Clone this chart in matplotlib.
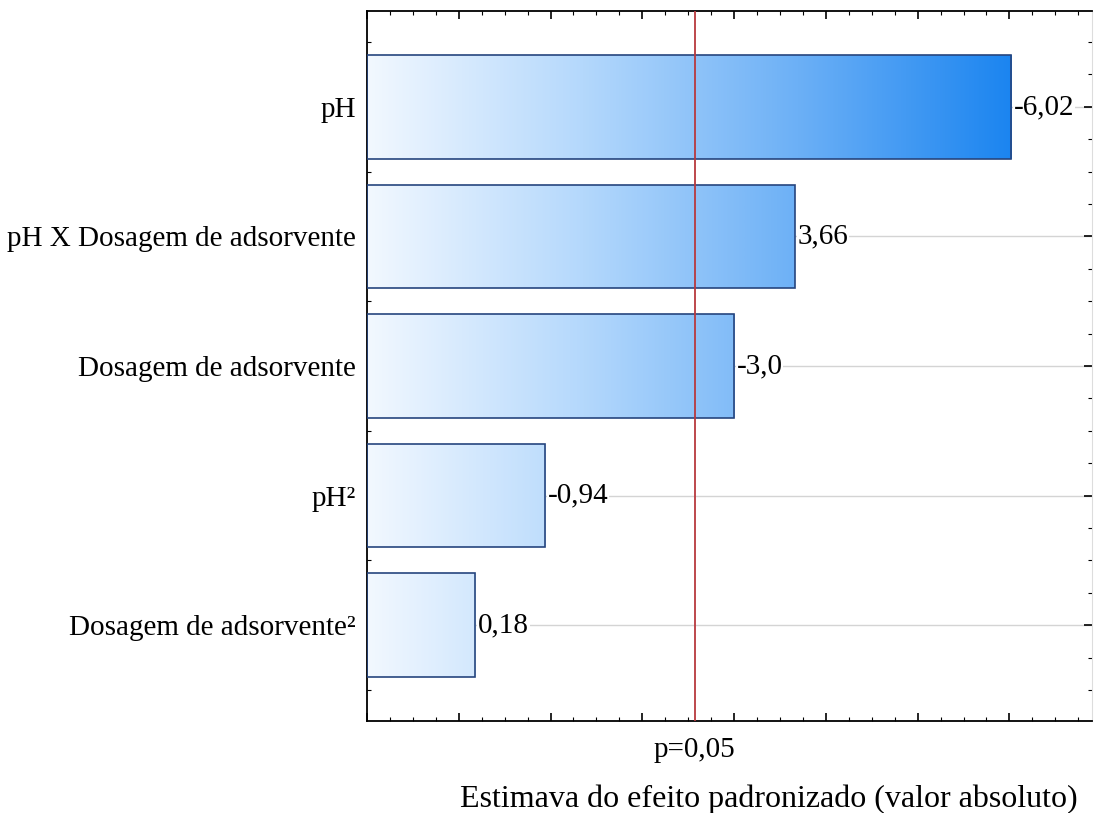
import numpy as np
import matplotlib
matplotlib.use("Agg")
import matplotlib.pyplot as plt
from matplotlib.colors import LinearSegmentedColormap
from matplotlib.ticker import MultipleLocator, NullFormatter

# efeitos (de baixo para cima)
factors = ["Dosagem de adsorvente²", "pH²", "Dosagem de adsorvente",
           "pH X Dosagem de adsorvente", "pH"]
effects = [0.18, 0.94, 3.0, 3.66, 6.02]
labels = ["0,18", "-0,94", "-3,0", "3,66", "-6,02"]
p_crit = 2.57

plt.rcParams['font.family'] = ['Liberation Serif', 'DejaVu Serif']

fig = plt.figure(figsize=(10.95, 8.13), dpi=100)
ax = fig.add_axes([367/1095, 1-721/813, (1092-367)/1095, 710/813])

xmin, xmax = -1.0, 6.9
ymin, ymax = -0.74, 4.74

y = np.arange(len(factors))
ax.grid(axis='y', color='#d4d4d4', lw=1.0, zorder=0)

cmap = LinearSegmentedColormap.from_list("azul", ["#f2f8ff", "#b4d8fc", "#6cb0f6", "#1a84f0"])
grad = np.linspace(0, 1, 256).reshape(1, -1)

# as barras partem da borda esquerda do eixo (estilo Statistica)
widths = [v - xmin for v in effects]
bars = ax.barh(y, widths, height=0.8, left=xmin, color='none',
               edgecolor='#26457e', lw=1.2, zorder=3)
for b in bars:
    im = ax.imshow(grad, cmap=cmap, aspect='auto', extent=[xmin, 6.05, ymin, ymax],
                   zorder=2, interpolation='bicubic')
    im.set_clip_path(b)
ax.set_xlim(xmin, xmax)
ax.set_ylim(ymin, ymax)

for yi, v, lab in zip(y, effects, labels):
    ax.text(v + 0.03, yi, lab, va='center', ha='left', fontsize=21, zorder=5,
            bbox=dict(facecolor='white', edgecolor='none', pad=0.5))

ax.axvline(p_crit, color='#b8393e', lw=1.3, zorder=4)

ax.set_yticks(y)
ax.set_yticklabels(factors, fontsize=21)
ax.yaxis.set_minor_locator(MultipleLocator(0.25))
ax.xaxis.set_major_locator(MultipleLocator(1))
ax.xaxis.set_minor_locator(MultipleLocator(0.25))
ax.xaxis.set_major_formatter(NullFormatter())
ax.tick_params(which='both', direction='in', top=True, right=True, color='black')
ax.tick_params(which='major', length=6, width=1.2)
ax.tick_params(which='minor', length=3, width=0.8)
ax.tick_params(axis='y', which='major', pad=8)
for s in ['left', 'top', 'bottom']:
    ax.spines[s].set_linewidth(1.3)
ax.spines['right'].set_color('#dddddd')

ax.text(p_crit, -0.022, "p=0,05", transform=ax.get_xaxis_transform(),
        ha='center', va='top', fontsize=21)
ax.set_xlabel("Estimava do efeito padronizado (valor absoluto)", fontsize=23)
ax.xaxis.set_label_coords((769-367)/(1092-367), -0.09)

fig.savefig("out.png", dpi=100)
